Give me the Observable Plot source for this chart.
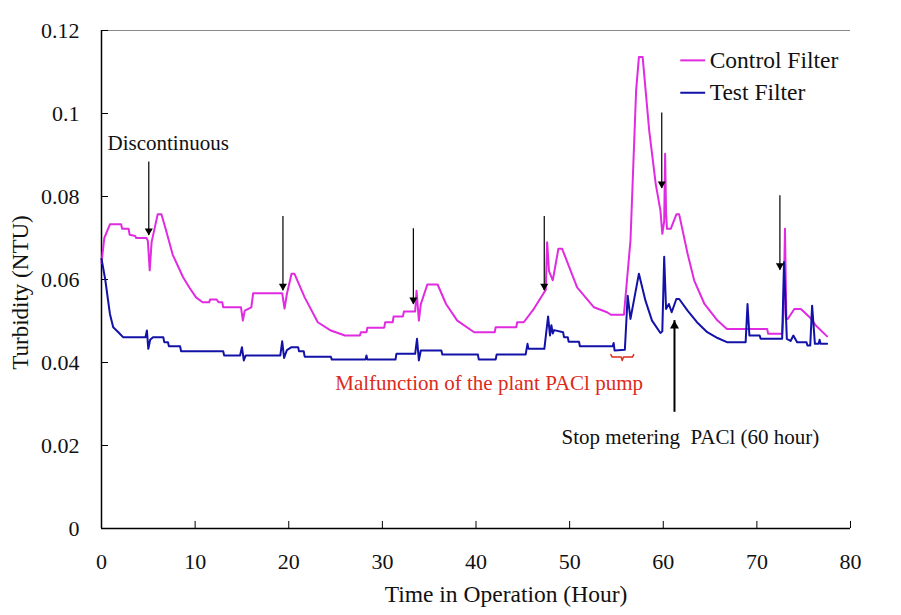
<!DOCTYPE html>
<html>
<head>
<meta charset="utf-8">
<script src="https://cdn.jsdelivr.net/npm/d3@7"></script>
<script src="https://cdn.jsdelivr.net/npm/@observablehq/plot@0.6"></script>
<style>
  html, body { margin: 0; padding: 0; background: #fff; }
  #chart { width: 901px; height: 615px; }
</style>
</head>
<body>
<div id="chart"></div>
<script>
// ---------- data ----------
const seriesNames = ["Control Filter", "Test Filter"];
const seriesColors = ["#E02BE0", "#1212A8"];

const controlHours = [0,0.3,0.9,2.1,2.2,2.9,3.0,3.6,3.7,4.8,4.95,5.15,5.35,6.0,6.4,6.9,7.6,8.7,9.4,10.1,10.8,11.5,11.6,12.3,12.5,12.9,13.0,14.9,15.1,15.3,16.0,16.2,19.3,19.55,19.8,20.3,20.6,21.7,23.1,24.5,26.0,27.6,27.7,28.3,28.4,30.2,30.3,31.1,31.2,32.2,32.3,33.5,33.65,33.9,34.1,34.8,35.9,36.8,38.0,39.8,42.0,42.1,44.3,44.4,45.1,46.2,47.3,47.45,47.6,47.8,48.2,48.8,49.2,50.8,52.6,54.0,54.4,55.8,56.5,57.1,57.4,57.8,58.5,59.2,59.7,59.9,60.1,60.2,60.3,60.4,60.8,61.4,61.7,62.6,63.3,64.4,65.8,66.8,71.1,71.2,72.7,72.85,73.0,73.15,73.3,74.0,74.7,75.7,76.3,77.5];
const controlNTU = [0.064,0.070,0.0733,0.0733,0.0722,0.0722,0.0708,0.0705,0.070,0.070,0.0693,0.0622,0.069,0.0757,0.0757,0.0718,0.066,0.0606,0.058,0.0557,0.0545,0.0545,0.0552,0.0552,0.0545,0.0545,0.0533,0.0533,0.0501,0.0525,0.0533,0.0567,0.0567,0.053,0.0565,0.0614,0.0614,0.0557,0.0497,0.0477,0.0465,0.0465,0.0473,0.0473,0.0484,0.0484,0.0497,0.0497,0.0511,0.0511,0.0523,0.0523,0.0573,0.0501,0.054,0.0588,0.0588,0.0541,0.0501,0.0473,0.0473,0.0485,0.0485,0.0497,0.0497,0.053,0.057,0.0575,0.069,0.062,0.0598,0.0674,0.0674,0.0581,0.0533,0.0521,0.0515,0.0515,0.0694,0.1055,0.1136,0.1136,0.0959,0.083,0.0766,0.071,0.074,0.0903,0.076,0.0722,0.0722,0.0757,0.0757,0.0662,0.0598,0.0541,0.0501,0.0481,0.0481,0.0469,0.0469,0.052,0.0722,0.0505,0.0505,0.0529,0.0529,0.0508,0.0489,0.0463];

const testHours = [0,0.4,0.7,0.9,1.25,1.8,2.3,4.7,4.85,5.0,5.2,5.5,6.6,6.7,7.1,7.2,8.4,8.5,13.0,13.1,14.8,15.0,15.2,15.4,19.1,19.3,19.5,19.8,20.3,21.0,21.1,21.6,21.7,24.5,24.6,28.2,28.3,28.4,31.4,31.5,33.5,33.7,33.9,34.1,36.3,36.4,40.2,40.3,42.1,42.2,45.3,45.5,45.6,47.3,47.7,47.9,48.05,48.2,48.35,49.3,49.4,49.8,49.9,51.0,51.1,54.6,54.7,54.8,55.9,56.2,56.5,57.4,58.1,58.8,59.7,59.9,60.1,60.3,60.6,60.9,61.4,61.7,62.6,63.6,64.7,65.8,66.8,68.8,69.0,69.2,70.3,70.4,72.7,72.9,73.2,73.6,73.9,74.3,75.3,75.4,75.7,75.9,76.2,76.6,76.7,76.8,77.5];
const testNTU = [0.065,0.060,0.055,0.0517,0.0485,0.0473,0.0461,0.0461,0.0477,0.0433,0.0455,0.0461,0.0461,0.0449,0.0449,0.0439,0.0439,0.0427,0.0427,0.0417,0.0417,0.0437,0.0405,0.0417,0.0417,0.0451,0.0411,0.043,0.0437,0.0437,0.0427,0.0427,0.0414,0.0414,0.0407,0.0407,0.0417,0.0407,0.0407,0.0421,0.0421,0.0457,0.0405,0.0429,0.0429,0.0419,0.0419,0.0407,0.0407,0.0419,0.0419,0.0445,0.0433,0.0433,0.0511,0.0465,0.049,0.047,0.0478,0.0473,0.0461,0.0461,0.045,0.045,0.0439,0.0439,0.0447,0.0429,0.0431,0.0561,0.0505,0.0614,0.0549,0.0501,0.0471,0.0475,0.0655,0.0529,0.0541,0.0521,0.0553,0.0553,0.0525,0.0497,0.0473,0.0459,0.0449,0.0449,0.0541,0.0465,0.0465,0.0457,0.0457,0.0642,0.0457,0.0452,0.0465,0.0449,0.0449,0.0441,0.0441,0.0537,0.0445,0.0445,0.0455,0.0445,0.0445];

const xTicks = [0,10,20,30,40,50,60,70,80];
const yTicks = [0,0.02,0.04,0.06,0.08,0.1,0.12];
const yTickLabels = ["0","0.02","0.04","0.06","0.08","0.1","0.12"];

// annotation arrows (hour, top value, tip value)
const arrowHours = [5.05,19.38,33.31,47.29,59.84,72.46];
const arrowTops  = [0.0883,0.0752,0.0722,0.0752,0.1001,0.0802];
const arrowTips  = [0.0706,0.0573,0.054,0.0573,0.0819,0.0622];
const upArrowHour = 61.2, upArrowBase = 0.0280, upArrowTip = 0.0501;

const noteTexts = ["Discontinuous","Malfunction of the plant PACl pump","Stop metering  PACl (60 hour)"];
const noteHours = [0.64,41.4,62.9];
const noteNTU = [0.0928,0.0349,0.0219];
const noteColors = ["#111","#DD2A1B","#111"];

const braceHours = [54.4,54.55,55.5,55.62,55.75,56.7,56.85];
const braceNTU = [0.0419,0.0413,0.0413,0.0405,0.0413,0.0413,0.0419];

const legendHour1 = 61.87, legendHour2 = 64.53, legendTextHour = 64.96;
const legendNTU = [0.1128,0.1050];

// ---------- build tables ----------
const control = controlHours.map((h,i)=>({h, v: controlNTU[i]}));
const test = testHours.map((h,i)=>({h, v: testNTU[i]}));
const arrows = arrowHours.map((h,i)=>({h, top: arrowTops[i], tip: arrowTips[i]}));
const notes = noteTexts.map((t,i)=>({t, h: noteHours[i], v: noteNTU[i], c: noteColors[i]}));
const brace = braceHours.map((h,i)=>({h, v: braceNTU[i]}));
const legend = seriesNames.map((n,i)=>({n, c: seriesColors[i], v: legendNTU[i]}));

const triDown = {draw(ctx){ ctx.moveTo(0,0); ctx.lineTo(-4,-7); ctx.lineTo(4,-7); ctx.closePath(); }};
const triUp = {draw(ctx){ ctx.moveTo(0,0); ctx.lineTo(-4.5,8); ctx.lineTo(4.5,8); ctx.closePath(); }};

const font = "'Liberation Serif', 'Times New Roman', serif";

const chart = Plot.plot({
  width: 901,
  height: 615,
  marginLeft: 101,
  marginRight: 51,
  marginTop: 30,
  marginBottom: 87,
  x: {domain: [0, 80]},
  y: {domain: [0, 0.12]},
  style: {fontFamily: font, fontSize: "22px", background: "#fff", color: "#111", overflow: "visible"},
  marks: [
    Plot.ruleY([0.12], {x1: 0, x2: 80, stroke: "#8a8a8a", strokeWidth: 1}),
    Plot.ruleX([0], {y1: 0, y2: 0.12, stroke: "#000", strokeWidth: 1.5}),
    Plot.ruleY([0], {x1: 0, x2: 80, stroke: "#000", strokeWidth: 1.5}),
    Plot.ruleX(xTicks, {x: d => d, y1: 0, y2: 0.0017, stroke: "#000", strokeWidth: 1}),
    Plot.ruleY(yTicks, {y: d => d, x1: 0, x2: 0.75, stroke: "#000", strokeWidth: 1}),
    Plot.axisX({ticks: xTicks, tickSize: 0, tickPadding: 25, tickFormat: d => String(d), label: null, fontSize: 22}),
    Plot.axisY({ticks: yTicks, tickSize: 0, tickPadding: 22, tickFormat: d => yTickLabels[yTicks.indexOf(d)], label: null, fontSize: 22}),
    Plot.text(["Turbidity (NTU)"], {frameAnchor: "left", dx: -81, dy: 13, rotate: -90, textAnchor: "middle", lineAnchor: "middle", fontSize: 23, fill: "#111"}),
    Plot.text(["Time in Operation (Hour)"], {frameAnchor: "bottom", dx: 30, dy: 66, textAnchor: "middle", lineAnchor: "middle", fontSize: 23.5, fill: "#111"}),
    Plot.line(control, {x: "h", y: "v", stroke: seriesColors[0], strokeWidth: 2}),
    Plot.line(test, {x: "h", y: "v", stroke: seriesColors[1], strokeWidth: 2}),
    Plot.ruleX(arrows, {x: "h", y1: "top", y2: "tip", stroke: "#000", strokeWidth: 1.2}),
    Plot.dot(arrows, {x: "h", y: "tip", symbol: triDown, fill: "#000", stroke: "none"}),
    Plot.ruleX([upArrowHour], {x: d => d, y1: upArrowBase, y2: upArrowTip, stroke: "#000", strokeWidth: 2}),
    Plot.dot([upArrowHour], {x: d => d, y: upArrowTip, symbol: triUp, fill: "#000", stroke: "none"}),
    Plot.line(brace, {x: "h", y: "v", stroke: "#DD2A1B", strokeWidth: 1.5}),
    Plot.text(notes.slice(0,1), {x: "h", y: "v", text: "t", textAnchor: "start", fill: "c", fontSize: 21, lineAnchor: "middle"}),
    Plot.text(notes.slice(1), {x: "h", y: "v", text: "t", textAnchor: "middle", fill: "c", fontSize: 21, lineAnchor: "middle"}),
    Plot.ruleY(legend, {y: "v", x1: legendHour1, x2: legendHour2, stroke: "c", strokeWidth: 2}),
    Plot.text(legend, {x: legendTextHour, y: "v", text: "n", textAnchor: "start", lineAnchor: "middle", fill: "#111", fontSize: 23.5})
  ]
});

document.getElementById("chart").appendChild(chart);
</script>
</body>
</html>
